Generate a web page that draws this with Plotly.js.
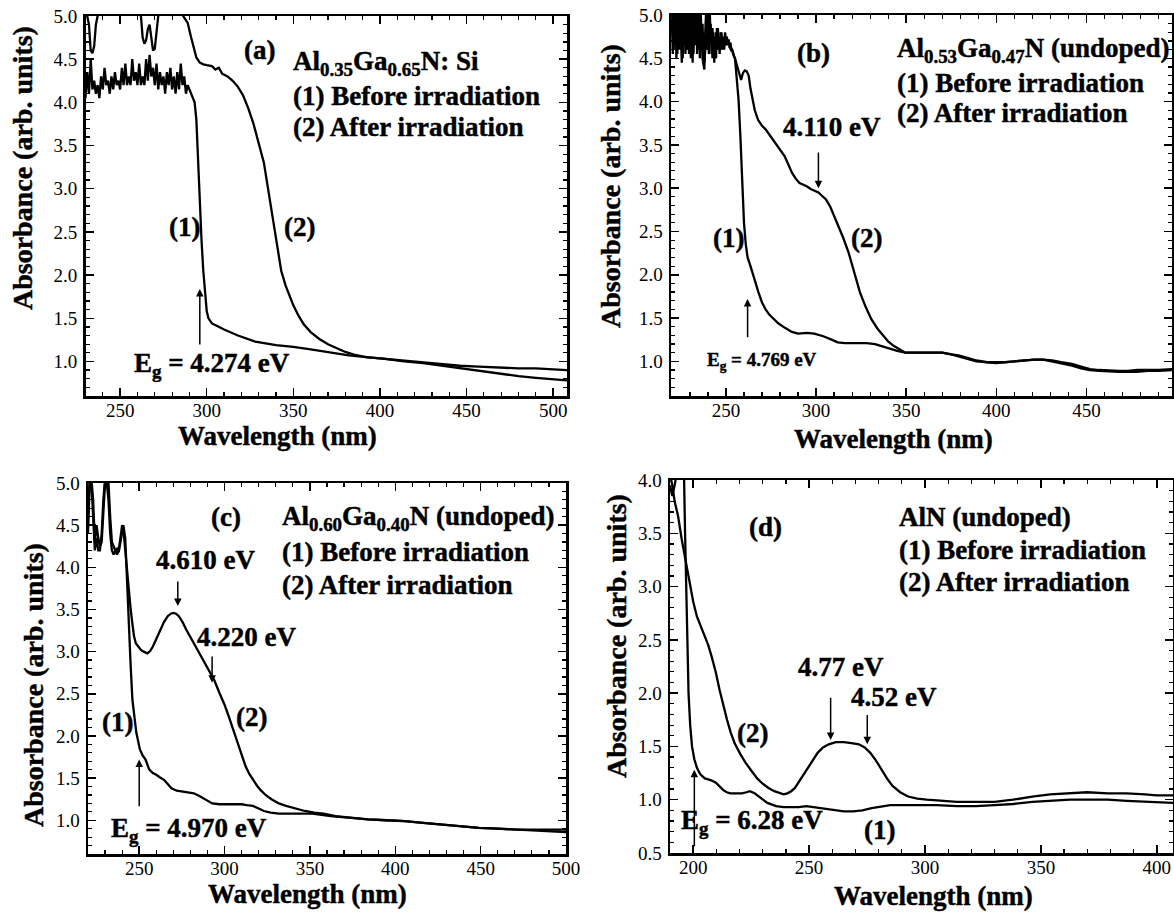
<!DOCTYPE html>
<html><head><meta charset="utf-8">
<script src="https://cdn.plot.ly/plotly-3.0.1.min.js"></script>
<style>
body{margin:0;background:#fff}
#chart{width:1174px;height:914px}
#chart .annotation-text{stroke:#000;stroke-width:0.45px;}
</style>
</head><body><div id="chart"></div>
<script>
// ---------- Panel (a): Al0.35Ga0.65N:Si ----------
const aWlBefore = [230,231,232,233,234,235,236,237,238,239,240,241,242,243,244,245,246,247,248,249,250,251,252,253,254,255,256,257,258,259,260,261,262,263,264,265,266,267,268,269,270,271,272,273,274,275,276,277,278,279,280,281,282,283,284,285,286,287,288,289,290,291,292,293,294,295,296,297,298,299,300,301,303,306,310,318,328,340,350,360,370,382,392,403,414,425,436,446,457,468,480,490,500,508];
const aAbsBefore = [4.05,4.35,4.10,4.50,4.15,4.25,4.10,4.20,4.05,4.30,4.15,4.40,4.20,4.25,4.10,4.30,4.15,4.35,4.20,4.25,4.15,4.40,4.20,4.45,4.20,4.30,4.20,4.50,4.25,4.35,4.20,4.45,4.20,4.30,4.20,4.50,4.25,4.55,4.30,4.40,4.20,4.45,4.15,4.35,4.20,4.30,4.10,4.35,4.20,4.40,4.15,4.30,4.10,4.35,4.15,4.45,4.20,4.30,4.10,4.20,4.15,4.10,4.05,4.00,3.80,3.30,2.85,2.40,2.05,1.75,1.58,1.50,1.44,1.41,1.37,1.30,1.23,1.19,1.17,1.14,1.11,1.07,1.05,1.03,1.01,0.99,0.97,0.95,0.94,0.93,0.92,0.92,0.91,0.90];
const aWlAfter = [230,231,232,233,234,235,236,237,238,240,245,250,255,260,262,263,264,265,266,267,268,269,270,271,272,274,280,285,287,289,291,292,294,296,298,300,303,305,307,309,312,315,318,321,324,327,330,333,335,337,339,341,343,345.5,348,350,353,356,360,365,370,375.5,380,385,392,403,414,425,436,446,457,468,480,490,500,508];
const aAbsAfter = [5.05,5.00,4.90,4.60,4.57,4.65,4.90,5.00,5.05,5.05,5.05,5.05,5.05,5.05,5.00,4.75,4.68,4.72,4.85,4.90,4.75,4.60,4.62,4.85,5.00,5.05,5.05,5.05,4.98,4.92,4.75,4.68,4.52,4.46,4.44,4.43,4.42,4.38,4.40,4.33,4.30,4.25,4.18,4.08,3.93,3.75,3.52,3.30,3.05,2.80,2.50,2.25,2.05,1.88,1.74,1.65,1.53,1.43,1.34,1.26,1.20,1.15,1.11,1.08,1.05,1.03,1.00,0.98,0.95,0.92,0.89,0.86,0.83,0.81,0.79,0.78];

// ---------- Panel (b): Al0.53Ga0.47N ----------
const bWlBefore = [220,220.5,221,221.5,222,222.5,223,223.5,224,224.5,225,225.5,226,226.5,227,227.5,228,228.5,229,229.5,230,230.5,231,231.5,232,232.5,233,233.5,234,234.5,235,235.5,236,236.5,237,237.5,238,238.5,239,239.5,240,240.5,241,241.5,242,242.5,243,243.5,244,244.5,245,245.5,246,246.5,247,247.5,248,248.5,249,249.5,250,250.5,251,251.5,252,252.5,253,253.5,254,254.5,255,256,257,258,259,260,261,262,263.6,266,268,270,272,274,276,279,282.5,286.6,290,295,299,301.3,304,307.6,312,316,320,324.3,328,332.7,337,341,345,349.5,354,358,364,370,375,379,384,389,395,400,405,410,415,421,426,431,436,442,447,452,457,463,468,473,478,484,490,497.5];
const bAbsBefore = [4.95,4.55,5.05,4.70,5.05,4.50,4.90,5.05,4.60,5.05,4.75,4.45,5.00,4.65,5.05,4.55,4.95,5.05,4.60,4.90,5.05,4.50,4.95,4.45,5.05,4.70,4.85,5.05,4.55,5.00,4.65,5.05,4.60,4.85,4.50,4.40,4.37,4.80,5.05,4.60,4.95,4.55,5.05,4.70,4.85,4.50,4.80,4.45,4.70,4.50,4.85,4.60,4.75,4.55,4.80,4.65,4.60,4.75,4.65,4.80,4.70,4.75,4.65,4.72,4.62,4.68,4.58,4.60,4.55,4.52,4.50,4.30,4.02,3.60,3.00,2.60,2.35,2.20,2.10,1.92,1.80,1.68,1.60,1.54,1.50,1.44,1.39,1.34,1.32,1.33,1.32,1.31,1.29,1.26,1.22,1.21,1.21,1.21,1.21,1.20,1.17,1.14,1.12,1.10,1.10,1.10,1.10,1.10,1.08,1.07,1.04,1.01,0.99,0.99,0.99,1.00,1.01,1.02,1.02,1.01,0.99,0.97,0.94,0.91,0.90,0.89,0.89,0.89,0.90,0.90,0.90,0.91];
const bWlAfter = [220,220.5,221,221.5,222,222.5,223,223.5,224,224.5,225,225.5,226,226.5,227,227.5,228,228.5,229,229.5,230,230.5,231,231.5,232,232.5,233,233.5,234,234.5,235,235.5,236,236.5,237,237.5,238,238.5,239,239.5,240,240.5,241,241.5,242,242.5,243,243.5,244,244.5,245,245.5,246,246.5,247,247.5,248,248.5,249,249.5,250,250.5,251,251.5,252,252.5,253,253.5,254,254.5,255,256,257.3,258.4,259.4,260.5,261.5,262.6,263.6,264.7,266,267.8,270,272,274,276,279,282.5,284.5,286.6,288.7,290.8,293,295,297,299,301.3,303.4,305.5,308,311.8,315,318,321,324.3,327.5,330.6,334,337,340,343,346,349.5,354,358,364,370,375,379,384,389,395,400,405,410,415,421,426,431,436,442,447,452,457,463,468,473,478,484,490,497.5];
const bAbsAfter = [5.05,4.80,4.60,5.05,4.75,5.05,4.55,4.80,5.05,4.65,5.05,4.90,4.50,5.05,4.70,5.05,4.60,4.85,5.05,4.55,4.80,5.05,4.60,5.00,4.55,5.05,4.65,4.90,5.05,4.60,4.95,4.50,5.05,4.70,4.90,4.55,4.45,4.60,4.85,5.05,4.60,5.00,4.70,4.90,4.55,4.85,4.60,4.75,4.50,4.80,4.60,4.85,4.65,4.75,4.60,4.80,4.65,4.70,4.60,4.75,4.65,4.72,4.70,4.66,4.68,4.60,4.62,4.58,4.55,4.52,4.50,4.42,4.35,4.25,4.33,4.36,4.35,4.30,4.15,4.02,3.90,3.79,3.72,3.68,3.62,3.56,3.47,3.37,3.28,3.18,3.11,3.06,3.04,3.02,2.99,2.97,2.95,2.91,2.87,2.78,2.60,2.43,2.26,2.03,1.80,1.63,1.49,1.38,1.30,1.23,1.18,1.14,1.10,1.10,1.10,1.10,1.10,1.08,1.06,1.03,1.00,0.99,0.98,0.99,1.00,1.01,1.02,1.02,1.00,0.98,0.95,0.92,0.90,0.89,0.88,0.88,0.88,0.88,0.89,0.89,0.90];

// ---------- Panel (c): Al0.60Ga0.40N ----------
const cWlBefore = [220,221,222,223,224,225,226,227,228,229,230,231,232,233,234,235,236,237,238,239,240,240.7,241.8,242.8,243.9,245,246,247.2,248.3,250.4,252,253.7,255.9,258,260,262,264.5,266.7,268.9,272,275.4,279,282,285,288.4,292.8,297,301.4,306,310,313,316.6,320,323,327,331.8,340.5,351.3,362.2,373,384,395,405.6,416,427.3,438,449,460,470.7,481,490,500];
const cAbsBefore = [4.40,5.00,5.05,4.80,4.30,4.50,4.35,4.25,4.30,4.60,5.00,5.05,5.00,4.60,4.30,4.25,4.20,4.22,4.18,4.30,4.45,4.50,4.35,3.81,3.42,2.83,2.43,2.20,2.04,1.84,1.77,1.72,1.60,1.56,1.54,1.51,1.48,1.43,1.38,1.35,1.34,1.33,1.32,1.29,1.25,1.20,1.19,1.19,1.19,1.19,1.18,1.17,1.14,1.11,1.09,1.08,1.08,1.08,1.05,1.03,1.01,1.00,0.99,0.97,0.95,0.93,0.91,0.90,0.89,0.89,0.89,0.89];
const cWlAfter = [220,221,222,223,224,225,226,227,228,229,230,231,232,233,234,235,236,237,238,239,240,240.7,241.8,242.8,243.9,245,246,247,248,249.3,251,252.6,254.8,256.5,258,260,262.4,264.5,266.7,268.5,270,271.6,273.2,275.4,277.6,280.8,284,287.3,290.6,294,297,300,302.5,305,308,310,312.3,314.5,316.6,319,321,324,327.5,331.8,336,341.5,347,352.5,357.9,365,373,384,394.7,405.6,416.5,427.3,438,449,460,470.7,481.5,490,500];
const cAbsAfter = [4.60,5.05,5.00,4.50,4.20,4.35,4.20,4.20,4.40,4.80,5.05,5.00,4.80,4.40,4.20,4.15,4.20,4.15,4.20,4.35,4.50,4.45,4.20,3.90,3.70,3.50,3.33,3.18,3.10,3.06,3.02,3.00,2.98,3.01,3.06,3.15,3.26,3.35,3.42,3.45,3.46,3.45,3.42,3.35,3.26,3.14,3.02,2.90,2.79,2.66,2.51,2.37,2.23,2.08,1.92,1.78,1.64,1.55,1.48,1.41,1.36,1.30,1.25,1.20,1.17,1.14,1.11,1.09,1.08,1.05,1.03,1.01,1.00,0.99,0.97,0.95,0.93,0.91,0.90,0.89,0.88,0.87,0.86];

// ---------- Panel (d): AlN ----------
const dWlBefore = [190,191,192,193,194,195,196,196.5,197,197.5,198,198.7,199.5,200.5,201.6,203,205,206.5,208,209.8,211.5,213,214.5,216,218.5,221,223,224.4,226.5,229,232,235.8,239,242.3,245.5,248.8,252,257,261,265,269,273,277,281.3,285,289.4,297.6,305,313.8,322,330,338,346.3,354,362.6,370,378.9,387,395,400,407];
const dAbsBefore = [3.95,3.85,3.95,4.10,4.20,4.20,4.10,3.50,3.00,2.40,2.00,1.70,1.50,1.38,1.30,1.24,1.20,1.19,1.18,1.16,1.12,1.09,1.07,1.06,1.06,1.06,1.07,1.08,1.06,1.02,0.97,0.94,0.93,0.93,0.93,0.94,0.93,0.91,0.90,0.89,0.89,0.90,0.92,0.94,0.95,0.95,0.95,0.95,0.94,0.94,0.95,0.96,0.98,0.99,1.00,1.00,1.00,0.99,0.98,0.98,0.97];
const dWlAfter = [190,191,192,193.5,195,196.7,198.4,200,201.6,203.3,204.9,206.5,208,209.7,211.4,213,214.6,216.2,217.9,220.3,222.8,225.2,227.6,230,232.5,235,237.4,239,240.6,242.3,243.9,246.3,248.8,251.2,253.7,256,258.5,261.5,265,268.3,271.5,274,276.4,278.8,281.3,283.6,286,289.3,292.7,296.7,300.8,307,313.8,322,330,338,346.3,354,362.6,370,378.9,387,395,400,407];
const dAbsAfter = [4.05,3.95,3.80,3.66,3.45,3.25,3.03,2.86,2.72,2.62,2.53,2.45,2.34,2.20,2.03,1.88,1.75,1.63,1.53,1.43,1.34,1.27,1.20,1.15,1.11,1.08,1.06,1.05,1.06,1.08,1.11,1.19,1.28,1.36,1.44,1.49,1.52,1.54,1.54,1.53,1.52,1.49,1.44,1.37,1.28,1.20,1.13,1.07,1.03,1.01,1.00,0.99,0.98,0.98,0.98,1.00,1.03,1.05,1.06,1.07,1.06,1.06,1.05,1.04,1.04];

// ---------- Text ----------
const seriesNames = ['(1) Before irradiation', '(2) After irradiation'];
const sampleLabels = ['Al<sub>0.35</sub>Ga<sub>0.65</sub>N: Si', 'Al<sub>0.53</sub>Ga<sub>0.47</sub>N (undoped)', 'Al<sub>0.60</sub>Ga<sub>0.40</sub>N (undoped)', 'AlN (undoped)'];
const panelTags = ['(a)', '(b)', '(c)', '(d)'];
const bandGaps = ['E<sub>g</sub> = 4.274 eV', 'E<sub>g</sub> = 4.769 eV', 'E<sub>g</sub> = 4.970 eV', 'E<sub>g</sub> = 6.28 eV'];
const xTitle = 'Wavelength (nm)';
const yTitle = 'Absorbance (arb. units)';

const FONT = 'Liberation Serif, Times New Roman, serif';
const line = {color: '#000', width: 2.3};
const traces = [
  {x: aWlBefore, y: aAbsBefore, xaxis: 'x', yaxis: 'y', name: seriesNames[0]},
  {x: aWlAfter, y: aAbsAfter, xaxis: 'x', yaxis: 'y', name: seriesNames[1]},
  {x: bWlBefore, y: bAbsBefore, xaxis: 'x2', yaxis: 'y2', name: seriesNames[0]},
  {x: bWlAfter, y: bAbsAfter, xaxis: 'x2', yaxis: 'y2', name: seriesNames[1]},
  {x: cWlBefore, y: cAbsBefore, xaxis: 'x3', yaxis: 'y3', name: seriesNames[0]},
  {x: cWlAfter, y: cAbsAfter, xaxis: 'x3', yaxis: 'y3', name: seriesNames[1]},
  {x: dWlBefore, y: dAbsBefore, xaxis: 'x4', yaxis: 'y4', name: seriesNames[0]},
  {x: dWlAfter, y: dAbsAfter, xaxis: 'x4', yaxis: 'y4', name: seriesNames[1]}
].map(t => Object.assign({type: 'scatter', mode: 'lines', line: line, showlegend: false, hoverinfo: 'skip'}, t));

function axisBase(range, domain, anchor, dtick, minorDtick) {
  return {
    range: range, domain: domain, anchor: anchor, autorange: false,
    showline: true, linewidth: 2.5, linecolor: '#000', mirror: 'allticks',
    ticks: 'inside', ticklen: 8, tickwidth: 1.5, tickcolor: '#000',
    dtick: dtick, tick0: 0,
    minor: {ticks: 'inside', ticklen: 4, tickwidth: 1.2, tickcolor: '#000', dtick: minorDtick, tick0: 0},
    showgrid: false, zeroline: false,
    tickfont: {family: FONT, size: 19, color: '#000'}
  };
}
function xax(range, domain, anchor) { const a = axisBase(range, domain, anchor, 50, 10); a.ticklabelstandoff = -4; return a; }
function yax(range, domain, anchor) { const a = axisBase(range, domain, anchor, 0.5, 0.1); a.tickformat = '.1f'; a.ticklabelstandoff = 2; return a; }

const W = 1174, H = 914;
const px = v => v / W, py = v => 1 - v / H;

const layout = {
  width: W, height: H, margin: {l: 0, r: 0, t: 0, b: 0},
  paper_bgcolor: '#fff', plot_bgcolor: '#fff', showlegend: false,
  font: {family: FONT, color: '#000', size: 19},
  xaxis: xax([230, 508], [px(85.5), px(567)], 'y'),
  yaxis: yax([0.6, 5.0], [py(396), py(16)], 'x'),
  xaxis2: xax([219.5, 497.5], [px(671), px(1172)], 'y2'),
  yaxis2: yax([0.6, 5.0], [py(396), py(15)], 'x2'),
  xaxis3: xax([220, 500], [px(88), px(566)], 'y3'),
  yaxis3: yax([0.6, 5.0], [py(854), py(483)], 'x3'),
  xaxis4: xax([190, 407], [px(670), px(1173)], 'y4'),
  yaxis4: yax([0.5, 4.0], [py(853), py(480)], 'x4'),
  annotations: []
};

const big = {family: FONT, size: 27, color: '#000', weight: 700};
function txt(xr, yr, x, y, text, anchor, size) {
  const f = Object.assign({}, big);
  if (size) f.size = size;
  return {xref: xr, yref: yr, x: x, y: y, text: text, showarrow: false, xanchor: anchor || 'center', yanchor: 'middle', font: f};
}
function arrow(xr, yr, x, yTail, yHead) {
  return {xref: xr, yref: yr, axref: xr, ayref: yr, x: x, y: yHead, ax: x, ay: yTail, text: '', showarrow: true, arrowhead: 2, arrowsize: 1, arrowwidth: 1.5, arrowcolor: '#000', standoff: 0, startstandoff: 0};
}
const A = layout.annotations;
// panel (a)
A.push(txt('x','y', 330.2, 4.61, panelTags[0]));
A.push(txt('x','y', 348.6, 4.46, sampleLabels[0], 'left'));
A.push(txt('x','y', 348.6, 4.07, seriesNames[0], 'left'));
A.push(txt('x','y', 348.6, 3.71, seriesNames[1], 'left'));
A.push(txt('x','y', 287.4, 2.56, '(1)'));
A.push(txt('x','y', 353.8, 2.56, '(2)'));
A.push(txt('x','y', 256.6, 0.96, bandGaps[0], 'left'));
A.push(arrow('x','y', 296, 1.18, 1.84));
// panel (b)
A.push(txt('x2','y2', 298.4, 4.56, panelTags[1]));
A.push(txt('x2','y2', 343.9, 4.60, sampleLabels[1], 'left'));
A.push(txt('x2','y2', 343.9, 4.22, seriesNames[0], 'left'));
A.push(txt('x2','y2', 343.9, 3.87, seriesNames[1], 'left'));
A.push(txt('x2','y2', 309, 3.71, '4.110 eV'));
A.push(arrow('x2','y2', 301.3, 3.43, 3.0));
A.push(txt('x2','y2', 251.2, 2.43, '(1)'));
A.push(txt('x2','y2', 327.8, 2.43, '(2)'));
A.push(txt('x2','y2', 238.4, 1.0, bandGaps[1], 'left', 19));
A.push(arrow('x2','y2', 262, 1.26, 1.72));
// panel (c)
A.push(txt('x3','y3', 300.8, 4.60, panelTags[2]));
A.push(txt('x3','y3', 332.5, 4.59, sampleLabels[2], 'left'));
A.push(txt('x3','y3', 332.5, 4.18, seriesNames[0], 'left'));
A.push(txt('x3','y3', 332.5, 3.79, seriesNames[1], 'left'));
A.push(txt('x3','y3', 288.8, 4.09, '4.610 eV'));
A.push(arrow('x3','y3', 272.6, 3.85, 3.54));
A.push(txt('x3','y3', 312.6, 3.17, '4.220 eV'));
A.push(arrow('x3','y3', 292.7, 2.96, 2.63));
A.push(txt('x3','y3', 237, 2.16, '(1)'));
A.push(txt('x3','y3', 316, 2.22, '(2)'));
A.push(txt('x3','y3', 232.3, 0.89, bandGaps[2], 'left'));
A.push(arrow('x3','y3', 250, 1.15, 1.72));
// panel (d)
A.push(txt('x4','y4', 231.2, 3.56, panelTags[3]));
A.push(txt('x4','y4', 287.9, 3.65, sampleLabels[3], 'left'));
A.push(txt('x4','y4', 287.9, 3.34, seriesNames[0], 'left'));
A.push(txt('x4','y4', 287.9, 3.04, seriesNames[1], 'left'));
A.push(txt('x4','y4', 263.8, 2.25, '4.77 eV'));
A.push(txt('x4','y4', 286.6, 1.96, '4.52 eV'));
A.push(arrow('x4','y4', 259.3, 1.97, 1.56));
A.push(arrow('x4','y4', 275.1, 1.81, 1.52));
A.push(txt('x4','y4', 225.4, 1.63, '(2)'));
A.push(txt('x4','y4', 280.2, 0.72, '(1)'));
A.push(txt('x4','y4', 193.7, 0.79, bandGaps[3], 'left'));
A.push(arrow('x4','y4', 200.5, 0.55, 1.28));
// axis titles
[[277, 436], [893, 439], [307, 894], [933, 896]].forEach(p => A.push(txt('paper','paper', px(p[0]), py(p[1]), xTitle)));
[[22, 168], [610, 186], [33, 685], [616, 636]].forEach(p => { const t = txt('paper','paper', px(p[0]), py(p[1]), yTitle, 'center', 28); t.textangle = -90; A.push(t); });

Plotly.newPlot('chart', traces, layout, {staticPlot: true, displayModeBar: false});
</script>
</body></html>
